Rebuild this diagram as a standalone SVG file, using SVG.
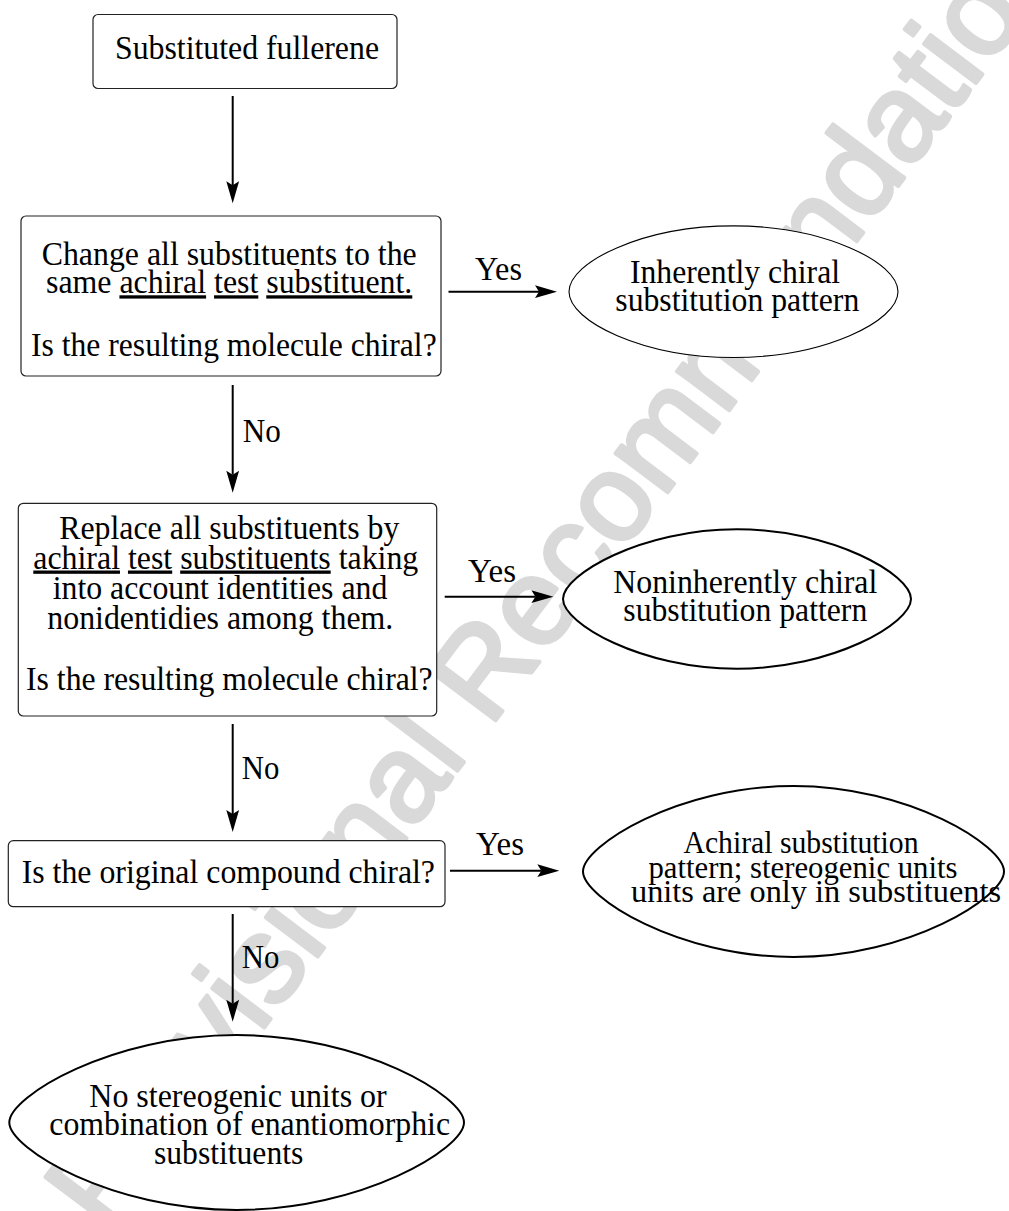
<svg xmlns="http://www.w3.org/2000/svg" width="1009" height="1211" viewBox="0 0 1009 1211">
<style>
  .bg{fill:#ffffff}
  .wm{font-family:"Liberation Sans",Arial,sans-serif;font-size:123px;fill:#d9d9d9;stroke:#d9d9d9;stroke-width:4;stroke-linejoin:round}
  .box{fill:#ffffff;stroke:#222222;stroke-width:1.2}
  .ell{fill:#ffffff;stroke:#000000;stroke-width:2}
  .ell.thin{stroke-width:1.1}
  .t{font-family:"Liberation Serif","Times New Roman",serif;font-size:33px;fill:#000000}
  .t30{font-size:31px}
  .u{text-decoration:underline}
  .edge{stroke:#000000;stroke-width:2;fill:none}
</style>
<defs>
  <marker id="arr" markerUnits="userSpaceOnUse" viewBox="0 0 22 14" markerWidth="22" markerHeight="14" refX="4" refY="7" orient="auto" overflow="visible">
    <path d="M0,0.6 L22,7 L0,13.4 L4,7 Z" fill="#000000"/>
  </marker>
</defs>
<rect class="bg" x="0" y="0" width="1009" height="1211"/>
<text class="wm" x="107" y="1236" transform="rotate(-53 107 1236)">Provisional Recommendations</text>

<g id="n1">
  <rect class="box" x="93" y="14.5" width="304" height="74" rx="5"/>
  <text class="t" x="115" y="59.3" textLength="264" lengthAdjust="spacingAndGlyphs">Substituted fullerene</text>
</g>

<g id="n2">
  <rect class="box" x="21" y="216" width="420" height="160" rx="5"/>
  <text class="t" x="41.7" y="265" textLength="375" lengthAdjust="spacingAndGlyphs">Change all substituents to the</text>
  <text class="t" x="46" y="293.3" textLength="366.3" lengthAdjust="spacingAndGlyphs">same <tspan class="u">achiral</tspan> <tspan class="u">test</tspan> <tspan class="u">substituent.</tspan></text>
  <text class="t" x="31" y="356" textLength="405.7" lengthAdjust="spacingAndGlyphs">Is the resulting molecule chiral?</text>
</g>

<g id="n3">
  <path class="ell thin" d="M569,291.7 C569,262.1 643,225.9 733.5,225.9 C824,225.9 898,262.1 898,291.7 C898,321.3 824,357.5 733.5,357.5 C643,357.5 569,321.3 569,291.7 Z"/>
  <text class="t" x="630" y="283.3" textLength="210" lengthAdjust="spacingAndGlyphs">Inherently chiral</text>
  <text class="t" x="615.3" y="311" textLength="244" lengthAdjust="spacingAndGlyphs">substitution pattern</text>
</g>

<g id="n4">
  <rect class="box" x="18.3" y="503.3" width="418.4" height="212.7" rx="5"/>
  <text class="t" x="59.3" y="539" textLength="340" lengthAdjust="spacingAndGlyphs">Replace all substituents by</text>
  <text class="t" x="33.3" y="568.5" textLength="385" lengthAdjust="spacingAndGlyphs"><tspan class="u">achiral</tspan> <tspan class="u">test</tspan> <tspan class="u">substituents</tspan> taking</text>
  <text class="t" x="52.7" y="599" textLength="334.6" lengthAdjust="spacingAndGlyphs">into account identities and</text>
  <text class="t" x="47.3" y="629.3" textLength="346" lengthAdjust="spacingAndGlyphs">nonidentidies among them.</text>
  <text class="t" x="26" y="690" textLength="406.7" lengthAdjust="spacingAndGlyphs">Is the resulting molecule chiral?</text>
</g>

<g id="n5">
  <path class="ell" d="M563,599 C563,574.6 641.3,529.3 737,529.3 C832.7,529.3 911,574.6 911,599 C911,623.4 832.7,668.7 737,668.7 C641.3,668.7 563,623.4 563,599 Z"/>
  <text class="t" x="613.3" y="592.5" textLength="264" lengthAdjust="spacingAndGlyphs">Noninherently chiral</text>
  <text class="t" x="623.3" y="620.5" textLength="244" lengthAdjust="spacingAndGlyphs">substitution pattern</text>
</g>

<g id="n6">
  <rect class="box" x="8.3" y="840.7" width="436.7" height="66" rx="5"/>
  <text class="t" x="21.7" y="882.7" textLength="413.3" lengthAdjust="spacingAndGlyphs">Is the original compound chiral?</text>
</g>

<g id="n7">
  <path class="ell" d="M583,871.5 C583,845.85 677.7,786 793.5,786 C909.3,786 1004,845.85 1004,871.5 C1004,897.15 909.3,957 793.5,957 C677.7,957 583,897.15 583,871.5 Z"/>
  <text class="t t30" x="683.5" y="853.3" textLength="235" lengthAdjust="spacingAndGlyphs">Achiral substitution</text>
  <text class="t t30" x="648.5" y="878.3" textLength="309" lengthAdjust="spacingAndGlyphs">pattern; stereogenic units</text>
  <text class="t t30" x="631" y="902.3" textLength="370" lengthAdjust="spacingAndGlyphs">units are only in substituents</text>
</g>

<g id="n8">
  <path class="ell" d="M9.3,1122.5 C9.3,1096.25 111.7,1035 236.7,1035 C361.7,1035 464,1096.25 464,1122.5 C464,1148.75 361.7,1210 236.7,1210 C111.7,1210 9.3,1148.75 9.3,1122.5 Z"/>
  <text class="t" x="89.3" y="1106.7" textLength="297.4" lengthAdjust="spacingAndGlyphs">No stereogenic units or</text>
  <text class="t" x="49.3" y="1135" textLength="400.7" lengthAdjust="spacingAndGlyphs">combination of enantiomorphic</text>
  <text class="t" x="154" y="1164" textLength="149.3" lengthAdjust="spacingAndGlyphs">substituents</text>
</g>

<g id="connectors">
  <line class="edge" x1="232.7" y1="96" x2="232.7" y2="185.3" marker-end="url(#arr)"/>
  <line class="edge" x1="232.7" y1="385" x2="232.7" y2="474.7" marker-end="url(#arr)"/>
  <text class="t" x="242.7" y="441.7" textLength="38" lengthAdjust="spacingAndGlyphs">No</text>
  <line class="edge" x1="232.7" y1="724" x2="232.7" y2="814" marker-end="url(#arr)"/>
  <text class="t" x="241.7" y="779" textLength="37.6" lengthAdjust="spacingAndGlyphs">No</text>
  <line class="edge" x1="232.7" y1="914" x2="232.7" y2="1003.7" marker-end="url(#arr)"/>
  <text class="t" x="241.7" y="968.3" textLength="37.6" lengthAdjust="spacingAndGlyphs">No</text>
  <line class="edge" x1="448.5" y1="291.7" x2="539" y2="291.7" marker-end="url(#arr)"/>
  <text class="t" x="475" y="280" textLength="47" lengthAdjust="spacingAndGlyphs">Yes</text>
  <line class="edge" x1="444.7" y1="596.7" x2="535.4" y2="596.7" marker-end="url(#arr)"/>
  <text class="t" x="468" y="581.7" textLength="48" lengthAdjust="spacingAndGlyphs">Yes</text>
  <line class="edge" x1="450" y1="870.7" x2="541.3" y2="870.7" marker-end="url(#arr)"/>
  <text class="t" x="476" y="855" textLength="48" lengthAdjust="spacingAndGlyphs">Yes</text>
</g>
</svg>
